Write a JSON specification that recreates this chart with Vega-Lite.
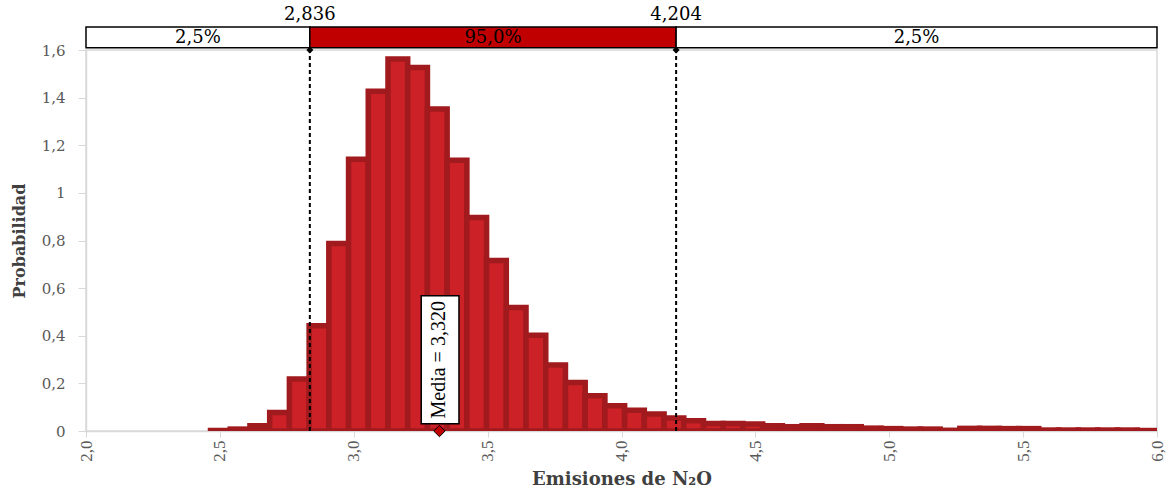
{
  "$schema": "https://vega.github.io/schema/vega-lite/v6.json",
  "width": 1071,
  "height": 381,
  "autosize": {"type": "none"},
  "padding": {"left": 86, "top": 50, "right": 14, "bottom": 60},
  "background": "white",
  "view": {"stroke": "#d9d9d9", "strokeWidth": 1.5},
  "datasets": {
    "hist": [
      {"x0": 2.4650, "x1": 2.5387, "p": 0.002},
      {"x0": 2.5387, "x1": 2.6123, "p": 0.008},
      {"x0": 2.6123, "x1": 2.6860, "p": 0.022},
      {"x0": 2.6860, "x1": 2.7596, "p": 0.078},
      {"x0": 2.7596, "x1": 2.8333, "p": 0.218},
      {"x0": 2.8333, "x1": 2.9069, "p": 0.442},
      {"x0": 2.9069, "x1": 2.9806, "p": 0.787},
      {"x0": 2.9806, "x1": 3.0542, "p": 1.141},
      {"x0": 3.0542, "x1": 3.1279, "p": 1.427},
      {"x0": 3.1279, "x1": 3.2015, "p": 1.562},
      {"x0": 3.2015, "x1": 3.2752, "p": 1.527},
      {"x0": 3.2752, "x1": 3.3488, "p": 1.352},
      {"x0": 3.3488, "x1": 3.4225, "p": 1.137},
      {"x0": 3.4225, "x1": 3.4961, "p": 0.897},
      {"x0": 3.4961, "x1": 3.5698, "p": 0.716},
      {"x0": 3.5698, "x1": 3.6434, "p": 0.519},
      {"x0": 3.6434, "x1": 3.7171, "p": 0.402},
      {"x0": 3.7171, "x1": 3.7907, "p": 0.277},
      {"x0": 3.7907, "x1": 3.8644, "p": 0.204},
      {"x0": 3.8644, "x1": 3.9380, "p": 0.148},
      {"x0": 3.9380, "x1": 4.0117, "p": 0.106},
      {"x0": 4.0117, "x1": 4.0853, "p": 0.087},
      {"x0": 4.0853, "x1": 4.1590, "p": 0.071},
      {"x0": 4.1590, "x1": 4.2326, "p": 0.055},
      {"x0": 4.2326, "x1": 4.3063, "p": 0.043},
      {"x0": 4.3063, "x1": 4.3799, "p": 0.031},
      {"x0": 4.3799, "x1": 4.4536, "p": 0.031},
      {"x0": 4.4536, "x1": 4.5272, "p": 0.029},
      {"x0": 4.5272, "x1": 4.6009, "p": 0.022},
      {"x0": 4.6009, "x1": 4.6745, "p": 0.018},
      {"x0": 4.6745, "x1": 4.7482, "p": 0.022},
      {"x0": 4.7482, "x1": 4.8218, "p": 0.018},
      {"x0": 4.8218, "x1": 4.8955, "p": 0.018},
      {"x0": 4.8955, "x1": 4.9691, "p": 0.012},
      {"x0": 4.9691, "x1": 5.0428, "p": 0.010},
      {"x0": 5.0428, "x1": 5.1164, "p": 0.008},
      {"x0": 5.1164, "x1": 5.1901, "p": 0.008},
      {"x0": 5.1901, "x1": 5.2637, "p": 0.003},
      {"x0": 5.2637, "x1": 5.3374, "p": 0.011},
      {"x0": 5.3374, "x1": 5.4110, "p": 0.011},
      {"x0": 5.4110, "x1": 5.4847, "p": 0.010},
      {"x0": 5.4847, "x1": 5.5583, "p": 0.010},
      {"x0": 5.5583, "x1": 5.6320, "p": 0.004},
      {"x0": 5.6320, "x1": 5.7056, "p": 0.004},
      {"x0": 5.7056, "x1": 5.7793, "p": 0.004},
      {"x0": 5.7793, "x1": 5.8529, "p": 0.004},
      {"x0": 5.8529, "x1": 5.9266, "p": 0.004},
      {"x0": 5.9266, "x1": 6.0000, "p": 0.002}
    ],
    "band": [
      {"a": 2.0, "b": 2.836, "seg": "low", "label": "2,5%"},
      {"a": 2.836, "b": 4.204, "seg": "mid", "label": "95,0%"},
      {"a": 4.204, "b": 6.0, "seg": "high", "label": "2,5%"}
    ],
    "limits": [
      {"v": 2.836, "label": "2,836"},
      {"v": 4.204, "label": "4,204"}
    ],
    "mean": [
      {"v": 3.32, "label": "Media = 3,320"}
    ]
  },
  "layer": [
    {
      "data": {"name": "hist"},
      "mark": {"type": "bar", "fill": "#CC2127", "stroke": "#A11A1D", "strokeWidth": 5.5, "clip": true},
      "encoding": {
        "x": {
          "field": "x0", "type": "quantitative",
          "scale": {"domain": [2, 6], "nice": false, "zero": false},
          "axis": {
            "values": [2, 2.5, 3, 3.5, 4, 4.5, 5, 5.5, 6],
            "labelExpr": "replace(format(datum.value, '.1f'), '.', ',')",
            "grid": false,
            "labelFlush": false,
            "domainColor": "#d9d9d9", "domainWidth": 1.5,
            "tickColor": "#d9d9d9", "tickSize": 6,
            "labelAngle": 270,
            "labelFont": "Liberation Sans Narrow", "labelFontSize": 17, "labelColor": "#595959",
            "labelPadding": 3,
            "title": "Emisiones de N₂O",
            "titleFont": "DejaVu Serif", "titleFontWeight": "bold", "titleFontSize": 18,
            "titleColor": "#404040", "titlePadding": 9
          }
        },
        "x2": {"field": "x1"},
        "y": {
          "field": "p", "type": "quantitative",
          "scale": {"domain": [0, 1.6], "nice": false},
          "axis": {
            "values": [0, 0.2, 0.4, 0.6, 0.8, 1, 1.2, 1.4, 1.6],
            "labelExpr": "replace(format(datum.value, '.1~f'), '.', ',')",
            "grid": false,
            "labelFlush": false,
            "domainColor": "#d9d9d9", "domainWidth": 1.5,
            "tickColor": "#d9d9d9", "tickSize": 8,
            "labelFont": "DejaVu Serif", "labelFontSize": 15, "labelColor": "#595959",
            "labelPadding": 13,
            "title": "Probabilidad",
            "titleFont": "DejaVu Serif", "titleFontWeight": "bold", "titleFontSize": 16,
            "titleColor": "#404040", "titlePadding": 14
          }
        },
        "y2": {"datum": 0}
      }
    },
    {
      "data": {"name": "band"},
      "mark": {"type": "rect", "stroke": "black", "strokeWidth": 1.5},
      "encoding": {
        "x": {"field": "a", "type": "quantitative"},
        "x2": {"field": "b"},
        "y": {"datum": 1.609},
        "y2": {"datum": 1.697},
        "fill": {"field": "seg", "type": "nominal", "scale": {"domain": ["low", "mid", "high"], "range": ["white", "#C00000", "white"]}, "legend": null}
      }
    },
    {
      "data": {"name": "band"},
      "transform": [{"calculate": "(datum.a + datum.b) / 2", "as": "m"}],
      "mark": {"type": "text", "font": "DejaVu Serif", "fontSize": 18, "color": "black", "baseline": "middle", "align": "center"},
      "encoding": {
        "x": {"field": "m", "type": "quantitative"},
        "y": {"datum": 1.651},
        "text": {"field": "label"}
      }
    },
    {
      "data": {"name": "limits"},
      "mark": {"type": "text", "font": "DejaVu Serif", "fontSize": 18, "color": "black", "baseline": "middle", "align": "center"},
      "encoding": {
        "x": {"field": "v", "type": "quantitative"},
        "y": {"datum": 1.745},
        "text": {"field": "label"}
      }
    },
    {
      "data": {"name": "limits"},
      "mark": {"type": "rule", "color": "black", "strokeWidth": 2, "strokeDash": [4, 3]},
      "encoding": {
        "x": {"field": "v", "type": "quantitative"},
        "y": {"datum": 0},
        "y2": {"datum": 1.6}
      }
    },
    {
      "data": {"name": "limits"},
      "mark": {"type": "point", "shape": "diamond", "filled": true, "color": "black", "size": 50, "opacity": 1},
      "encoding": {
        "x": {"field": "v", "type": "quantitative"},
        "y": {"datum": 1.6}
      }
    },
    {
      "data": {"name": "mean"},
      "mark": {"type": "rect", "fill": "white", "stroke": "black", "strokeWidth": 1.5},
      "encoding": {
        "x": {"datum": 3.252},
        "x2": {"datum": 3.393},
        "y": {"datum": 0.03},
        "y2": {"datum": 0.568}
      }
    },
    {
      "data": {"name": "mean"},
      "mark": {"type": "text", "angle": 270, "font": "Liberation Serif", "fontSize": 20, "color": "black", "baseline": "middle", "align": "center"},
      "encoding": {
        "x": {"field": "v", "type": "quantitative"},
        "y": {"datum": 0.299},
        "text": {"field": "label"}
      }
    },
    {
      "data": {"name": "mean"},
      "mark": {"type": "point", "shape": "diamond", "filled": true, "fill": "#C00000", "stroke": "black", "strokeWidth": 1, "size": 130, "opacity": 1},
      "encoding": {
        "x": {"field": "v", "type": "quantitative"},
        "y": {"datum": 0}
      }
    }
  ]
}
